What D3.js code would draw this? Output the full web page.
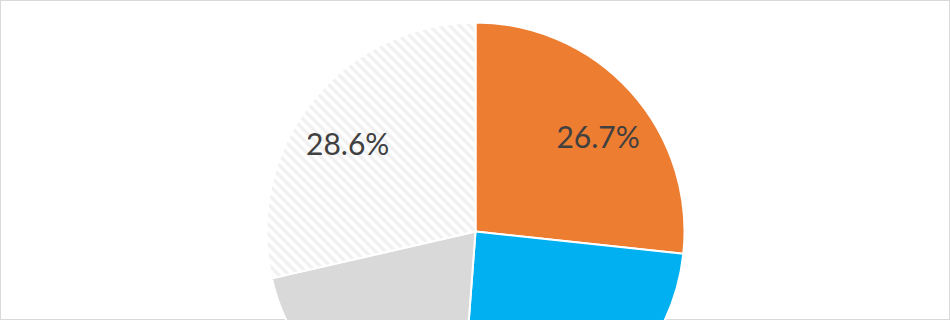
<!DOCTYPE html>
<html>
<head>
<meta charset="utf-8">
<script src="https://cdn.jsdelivr.net/npm/d3@7"></script>
<style>
  html, body { margin: 0; padding: 0; background: #fff; }
  svg { display: block; }
</style>
</head>
<body>
<svg id="chart" width="950" height="320"></svg>
<script>
// ---- data ----
const categories = ["A", "B", "C", "D"];
const values = [26.7, 24.5, 20.2, 28.6];
const labels = ["26.7%", "24.5%", "20.2%", "28.6%"];
const colors = ["#ED7D31", "#00B0F0", "#D9D9D9", "url(#hatch)"];

const W = 950, H = 320;
const cx = 475.5, cy = 231.5, R = 209;

const svg = d3.select("#chart");

// chart border
svg.append("rect")
  .attr("x", 0.5).attr("y", 0.5)
  .attr("width", W - 1).attr("height", H - 1)
  .attr("fill", "#fff")
  .attr("stroke", "#D9D9D9")
  .attr("stroke-width", 1);

// hatch pattern
const defs = svg.append("defs");
const pat = defs.append("pattern")
  .attr("id", "hatch")
  .attr("patternUnits", "userSpaceOnUse")
  .attr("width", 10).attr("height", 10);
pat.append("rect").attr("width", 10).attr("height", 10).attr("fill", "#fff");
pat.append("path")
  .attr("d", "M-5,5 L5,15 M0,0 L10,10 M5,-5 L15,5")
  .attr("stroke", "#F0F0F0")
  .attr("stroke-width", 3.2);

const pie = d3.pie().sort(null).value(d => d)(values);
const arc = d3.arc().innerRadius(0).outerRadius(R);

const g = svg.append("g").attr("transform", `translate(${cx},${cy})`);

g.selectAll("path.slice")
  .data(pie)
  .join("path")
  .attr("class", "slice")
  .attr("d", arc)
  .attr("fill", (d, i) => colors[i])
  .attr("stroke", "#fff")
  .attr("stroke-width", 2)
  .attr("stroke-linejoin", "round");

function labelPos(d) {
  const mid = (d.startAngle + d.endAngle) / 2;
  const a = mid + (Math.sin(mid) > 0 ? 0.09 : -0.09) * Math.sign(Math.cos(mid));
  return [Math.sin(a) * 153, -Math.cos(a) * 153 - 4];
}

// only labels that fall inside the visible area (others are cropped in the reference)
const visible = pie.filter(d => cy + labelPos(d)[1] + 15 < H);

g.selectAll("text.lbl")
  .data(visible)
  .join("text")
  .attr("class", "lbl")
  .attr("transform", d => `translate(${labelPos(d)})`)
  .attr("text-anchor", "middle")
  .attr("dominant-baseline", "central")
  .attr("font-family", "Lato, 'Open Sans', sans-serif")
  .attr("font-size", 30)
  .attr("fill", "#404040")
  .text(d => labels[d.index]);
</script>
</body>
</html>
